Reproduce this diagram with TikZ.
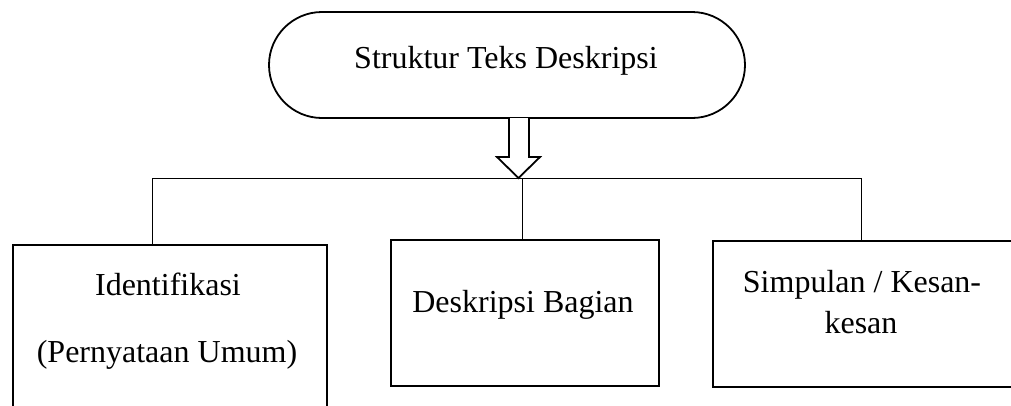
\documentclass[tikz,border=0pt]{standalone}
\usepackage{fontspec}
\setmainfont{Liberation Serif}
\usetikzlibrary{shapes.misc}
\begin{document}
\begin{tikzpicture}[x=1pt,y=-1pt,
  box/.style={draw,line width=1.8pt,rectangle,anchor=north west,inner sep=0pt},
  lbl/.style={anchor=base,inner sep=0pt,font=\fontsize{32}{38}\selectfont},
  thin/.style={line width=1pt}]
\useasboundingbox (0,0) rectangle (1011,405);
\clip (0,0) rectangle (1011,405);
% top stadium
\node[draw,line width=1.8pt,rounded rectangle,minimum width=476pt,minimum height=106pt,inner sep=0pt] (top) at (507,65) {};
\node[lbl] (toptext) at (506,68) {Struktur Teks Deskripsi};
% boxes
\node[box,minimum width=314pt,minimum height=200pt] (boxL) at (12,244) {};
\node[box,minimum width=268pt,minimum height=146pt] (boxM) at (390,239) {};
\node[box,minimum width=330pt,minimum height=146pt] (boxR) at (712,240) {};
\node[lbl] (tL1) at (168,295) {Identifikasi};
\node[lbl] (tL2) at (167,362) {(Pernyataan Umum)};
\node[lbl] (tM) at (523,312) {Deskripsi Bagian};
\node[lbl] (tR1) at (862,292) {Simpulan / Kesan-};
\node[lbl] (tR2) at (861,333) {kesan};
% bus
\coordinate (busL) at (152,178);
\coordinate (busM) at (522,178);
\coordinate (busR) at (861,178);
\draw[thin] (busL) -- (busR);
\draw[thin] (busL) -- (busL |- boxL.north);
\draw[thin] (busM) -- (busM |- boxM.north);
\draw[thin] (busR) -- (busR |- boxR.north);
% block arrow
\coordinate (tip) at (518.5,178);
\draw[line width=1.8pt,line join=miter,fill=white]
  (509,118) -- (509,157) -- (497,157) -- (tip) -- (540,157) -- (529,157) -- (529,118);
\end{tikzpicture}
\end{document}
